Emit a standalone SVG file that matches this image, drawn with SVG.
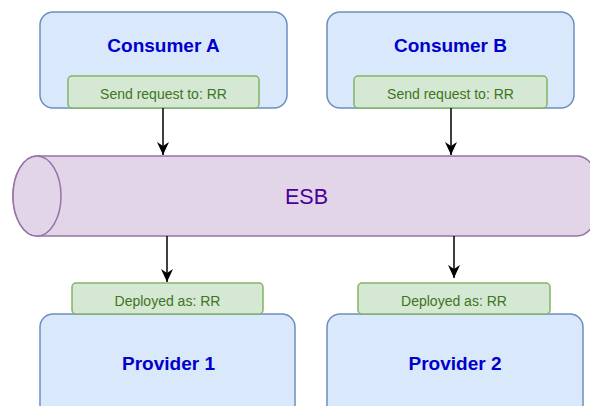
<svg xmlns="http://www.w3.org/2000/svg" width="590" height="406" viewBox="0 0 590 406">
  <defs>
    <marker id="arrow" viewBox="0 0 13 12" refX="13" refY="6" markerWidth="13" markerHeight="12" markerUnits="userSpaceOnUse" orient="auto">
      <path d="M0,0 L13,6 L0,12 L4,6 Z" fill="#000"/>
    </marker>
    <style>
      .app { fill: #dae8fc; stroke: #6c8ebf; stroke-width: 1.5; }
      .tag { fill: #d5e8d4; stroke: #82b366; stroke-width: 1.5; }
      .title { font-family: "Liberation Sans", Arial, sans-serif; font-weight: bold; font-size: 19px; fill: #0000cc; text-anchor: middle; }
      .tagtext { font-family: "Liberation Sans", Arial, sans-serif; font-size: 14px; fill: #3f7420; text-anchor: middle; }
      .bus { fill: #e1d5e7; stroke: #9673a6; stroke-width: 1.5; }
      .bustext { font-family: "Liberation Sans", Arial, sans-serif; font-size: 21.5px; fill: #4c0099; text-anchor: middle; }
      .link { stroke: #000; stroke-width: 1.5; fill: none; marker-end: url(#arrow); }
    </style>
  </defs>
  <rect width="590" height="406" fill="#fff"/>

  <g id="consumer-a">
    <rect class="app" x="40" y="12" width="247" height="96" rx="13"/>
    <text class="title" x="163.5" y="51.5">Consumer A</text>
    <rect class="tag" x="68" y="76" width="191" height="32" rx="4"/>
    <text class="tagtext" x="163.5" y="98.5">Send request to: RR</text>
  </g>

  <g id="consumer-b">
    <rect class="app" x="327" y="12" width="247" height="96" rx="13"/>
    <text class="title" x="450.5" y="51.5">Consumer B</text>
    <rect class="tag" x="354" y="76" width="193" height="32" rx="4"/>
    <text class="tagtext" x="450.5" y="98.5">Send request to: RR</text>
  </g>

  <g id="esb">
    <path class="bus" d="M37,156 L577,156 A24,40 0 0 1 577,236 L37,236 A24,40 0 0 1 37,156 Z"/>
    <ellipse class="bus" cx="37" cy="196" rx="24" ry="40"/>
    <text class="bustext" x="306.5" y="204">ESB</text>
  </g>

  <g id="provider-1">
    <rect class="app" x="40" y="314" width="255" height="110" rx="13"/>
    <text class="title" x="168.5" y="370">Provider 1</text>
    <rect class="tag" x="72" y="283" width="191" height="31" rx="4"/>
    <text class="tagtext" x="167.5" y="306">Deployed as: RR</text>
  </g>

  <g id="provider-2">
    <rect class="app" x="327" y="314" width="256" height="110" rx="13"/>
    <text class="title" x="455" y="370">Provider 2</text>
    <rect class="tag" x="358" y="283" width="192" height="31" rx="4"/>
    <text class="tagtext" x="454" y="306">Deployed as: RR</text>
  </g>

  <g id="connectors">
    <line class="link" x1="163" y1="108" x2="163" y2="155"/>
    <line class="link" x1="451" y1="108" x2="451" y2="155"/>
    <line class="link" x1="167" y1="236" x2="167" y2="282"/>
    <line class="link" x1="454" y1="236" x2="454" y2="278"/>
  </g>
</svg>
